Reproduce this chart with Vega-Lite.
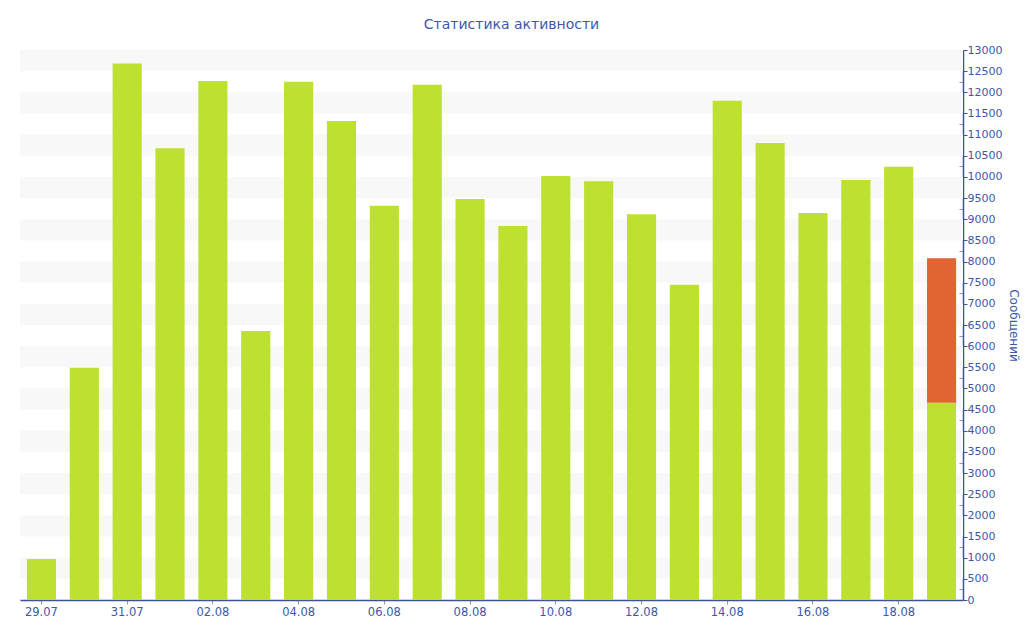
{
  "$schema": "https://vega.github.io/schema/vega-lite/v6.json",
  "width": 943,
  "height": 550,
  "autosize": "none",
  "padding": {"left": 20, "top": 50, "right": 61, "bottom": 40},
  "background": "white",
  "config": {"view": {"stroke": null}, "font": "DejaVu Sans"},
  "title": {"text": "Статистика активности", "fontSize": 14, "font": "DejaVu Sans", "fontWeight": "normal", "color": "#3d58a6", "offset": 12, "dx": 20},
  "datasets": {
    "bars": [
      {"date": "29.07", "part": "a", "value": 970},
      {"date": "30.07", "part": "a", "value": 5490},
      {"date": "31.07", "part": "a", "value": 12680},
      {"date": "01.08", "part": "a", "value": 10680},
      {"date": "02.08", "part": "a", "value": 12270},
      {"date": "03.08", "part": "a", "value": 6360},
      {"date": "04.08", "part": "a", "value": 12250},
      {"date": "05.08", "part": "a", "value": 11320},
      {"date": "06.08", "part": "a", "value": 9320},
      {"date": "07.08", "part": "a", "value": 12180},
      {"date": "08.08", "part": "a", "value": 9480},
      {"date": "09.08", "part": "a", "value": 8840},
      {"date": "10.08", "part": "a", "value": 10020},
      {"date": "11.08", "part": "a", "value": 9900},
      {"date": "12.08", "part": "a", "value": 9120},
      {"date": "13.08", "part": "a", "value": 7450},
      {"date": "14.08", "part": "a", "value": 11800},
      {"date": "15.08", "part": "a", "value": 10800},
      {"date": "16.08", "part": "a", "value": 9150},
      {"date": "17.08", "part": "a", "value": 9930},
      {"date": "18.08", "part": "a", "value": 10240},
      {"date": "19.08", "part": "a", "value": 4660},
      {"date": "19.08", "part": "b", "value": 3420}
    ],
    "bands": [
      {"lo": 500, "hi": 1000}, {"lo": 1500, "hi": 2000}, {"lo": 2500, "hi": 3000},
      {"lo": 3500, "hi": 4000}, {"lo": 4500, "hi": 5000}, {"lo": 5500, "hi": 6000},
      {"lo": 6500, "hi": 7000}, {"lo": 7500, "hi": 8000}, {"lo": 8500, "hi": 9000},
      {"lo": 9500, "hi": 10000}, {"lo": 10500, "hi": 11000}, {"lo": 11500, "hi": 12000},
      {"lo": 12500, "hi": 13000}
    ]
  },
  "resolve": {"axis": {"y": "independent"}},
  "layer": [
    {
      "data": {"name": "bands"},
      "mark": {"type": "rect", "color": "#f8f8f8"},
      "encoding": {
        "y": {"field": "lo", "type": "quantitative", "scale": {"domain": [0, 13000], "nice": false},
          "axis": {"orient": "right", "values": [250,750,1250,1750,2250,2750,3250,3750,4250,4750,5250,5750,6250,6750,7250,7750,8250,8750,9250,9750,10250,10750,11250,11750,12250,12750],
            "labels": false, "domain": false, "grid": false, "title": null, "tickSize": -4, "tickColor": "#999999"}},
        "y2": {"field": "hi"}
      }
    },
    {
      "data": {"name": "bars"},
      "mark": {"type": "bar"},
      "encoding": {
        "x": {"field": "date", "type": "nominal", "sort": null,
          "scale": {"paddingInner": 0.32, "paddingOuter": 0.16},
          "axis": {"values": ["29.07","31.07","02.08","04.08","06.08","08.08","10.08","12.08","14.08","16.08","18.08"],
            "labelAngle": 0, "title": null, "domainColor": "#3a539b", "domainWidth": 1.5, "tickColor": "#999999", "tickSize": 4,
            "labelColor": "#3d58a6", "labelFontSize": 11.5, "labelFont": "DejaVu Sans", "labelPadding": 2}},
        "y": {"field": "value", "type": "quantitative", "stack": "zero", "scale": {"domain": [0, 13000], "nice": false},
          "axis": {"orient": "right", "format": "d", "values": [0,500,1000,1500,2000,2500,3000,3500,4000,4500,5000,5500,6000,6500,7000,7500,8000,8500,9000,9500,10000,10500,11000,11500,12000,12500,13000],
            "grid": false, "title": "Сообщений", "titleColor": "#3d58a6", "titleFontSize": 12, "titleFont": "DejaVu Sans", "titleFontWeight": "normal", "titlePadding": 5,
            "domainColor": "#3a539b", "domainWidth": 1.5, "tickColor": "#3a539b", "tickSize": 4,
            "labelColor": "#3d58a6", "labelFontSize": 11, "labelFont": "DejaVu Sans", "labelPadding": 0}},
        "color": {"field": "part", "type": "nominal", "scale": {"domain": ["a", "b"], "range": ["#bde031", "#e06530"]}, "legend": null},
        "order": {"field": "part", "sort": "ascending"}
      }
    }
  ]
}
